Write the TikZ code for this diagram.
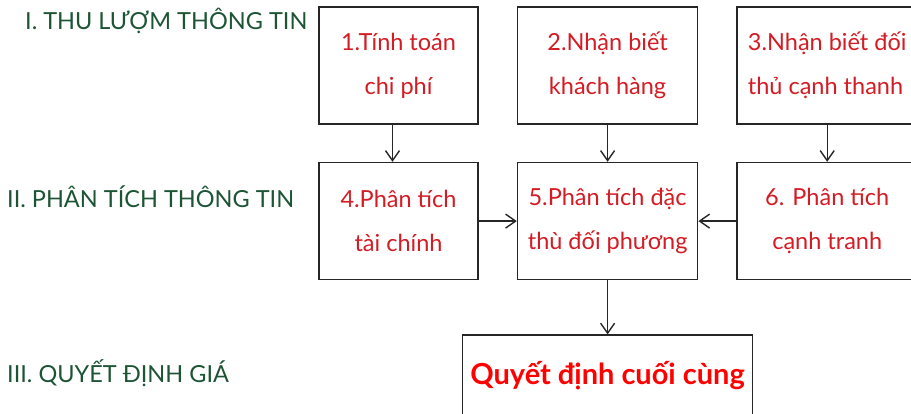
\documentclass[tikz,border=0pt]{standalone}
\usepackage{fontspec}
\setmainfont{Lato}
\usetikzlibrary{arrows.meta,positioning}
\definecolor{stagegreen}{RGB}{28,84,52}
\definecolor{boxred}{RGB}{212,28,36}
\definecolor{finalred}{RGB}{255,0,0}

\begin{document}
\begin{tikzpicture}[x=1pt,y=1pt,
    block_step/.style ={rectangle, draw=black!85, line width=1.6pt, fill=white,
      text=boxred, align=center, minimum height=117pt, inner sep=1pt,
      font=\fontsize{23.5}{44}\selectfont},
    block_final/.style ={rectangle, draw=black!85, line width=1.6pt, fill=white,
      text=finalred, minimum width=290pt, minimum height=80pt,
      font=\fontsize{29}{32}\selectfont\bfseries},
    block_stage/.style ={rectangle, draw=none, anchor=west, inner sep=0pt,
      text=stagegreen, font=\fontsize{23.5}{26}\selectfont},
    line/.style ={draw, line width=1.4pt, black!85,
      -{Straight Barb[length=10pt,width=14pt]}}]
    \useasboundingbox (0,0) rectangle (911,-414);
    % stage labels on the left
    \node [block_stage] (stage1) at (25,-21) {I. THU LƯỢM THÔNG TIN};
    \node [block_stage] (stage2) at (7,-197) {II. PHÂN TÍCH THÔNG TIN};
    \node [block_stage] (stage3) at (7,-373) {III. QUYẾT ĐỊNH GIÁ};
    % the six steps in a matrix
    \matrix (grid) [anchor=north west, inner sep=0pt, column sep=38pt, row sep=37pt] at (318,-6) {
      % gathering - row 1
		\node [block_step, minimum width=159pt] (step1) {1.Tính toán\\chi phí};
		& \node [block_step, minimum width=180pt] (step2) {2.Nhận biết\\khách hàng};
		& \node [block_step, minimum width=180pt, align=left] (step3) {3.Nhận biết đối\\thủ cạnh thanh}; \\
      % analysis - row 2
		\node [block_step, minimum width=159pt] (step4) {4.Phân tích\\tài chính};
		& \node [block_step, minimum width=180pt] (step5) {5.Phân tích đặc\\thù đối phương};
		& \node [block_step, minimum width=180pt] (step6) {6. Phân tích\\cạnh tranh}; \\
	};% end matrix
    % decision
    \node [block_final, below=54pt of step5] (final) {Quyết định cuối cùng};
    % connecting nodes with paths
    \begin{scope}[every path/.style=line]
		\path ([xshift=-6pt]step1.south) -- ([xshift=-6pt]step1.south |- step4.north);
		\path (step2) -- (step5);
		\path (step3) -- (step6);
		\path (step4) -- (step5);
		\path (step6) -- (step5);
		\path (step5) -- (final);
    \end{scope}
\end{tikzpicture}
\end{document}
